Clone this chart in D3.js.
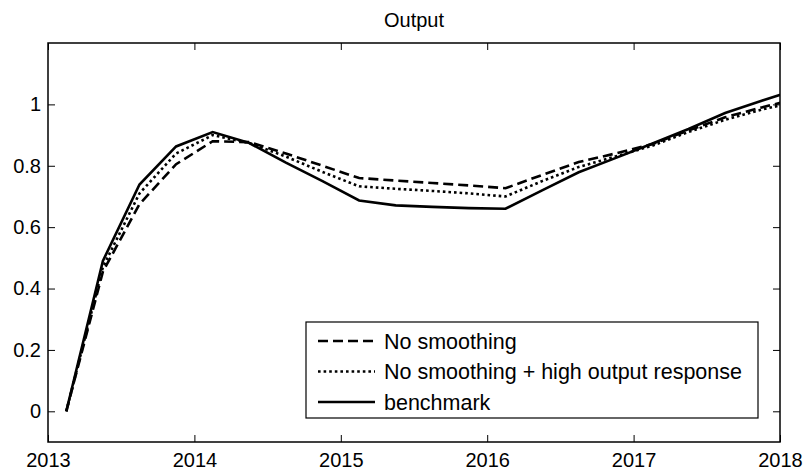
<!DOCTYPE html>
<html>
<head>
<meta charset="utf-8">
<script src="https://cdn.jsdelivr.net/npm/d3@7"></script>
<style>
  body { margin: 0; background: #fff; }
  text { font-family: "Liberation Sans", Arial, sans-serif; fill: #000; }
</style>
</head>
<body>
<div id="chart"></div>
<script>
// quarterly observations, 2013.125 + 0.25k
let dates = [2013.125, 2013.375, 2013.625, 2013.875, 2014.125, 2014.375, 2014.625, 2014.875,
  2015.125, 2015.375, 2015.625, 2015.875, 2016.125, 2016.375, 2016.625, 2016.875,
  2017.125, 2017.375, 2017.625, 2017.875, 2018.125];
let noSmoothing = [0, 0.455, 0.675, 0.805, 0.88, 0.877, 0.84, 0.80, 0.76, 0.752, 0.744, 0.736,
  0.727, 0.77, 0.812, 0.84, 0.87, 0.915, 0.958, 0.99, 1.02];
let highResponse = [0, 0.47, 0.71, 0.84, 0.9, 0.874, 0.83, 0.78, 0.733, 0.725, 0.718, 0.71,
  0.70, 0.75, 0.796, 0.83, 0.865, 0.91, 0.95, 0.983, 1.01];
let benchmark = [0, 0.49, 0.739, 0.863, 0.91, 0.874, 0.81, 0.75, 0.687, 0.671, 0.666, 0.662,
  0.66, 0.72, 0.779, 0.825, 0.872, 0.92, 0.972, 1.012, 1.05];
let xTicks = [2013, 2014, 2015, 2016, 2017, 2018];
let yTicks = [0, 0.2, 0.4, 0.6, 0.8, 1];
let seriesNames = ['No smoothing', 'No smoothing + high output response', 'benchmark'];

let w = 806,
  h = 472;
let padding = {top: 43, right: 26, bottom: 30, left: 48};
let width = w - padding.left - padding.right;
let height = h - padding.top - padding.bottom;

let svg = d3.select('#chart').append('svg')
  .attr('width', w)
  .attr('height', h);

let xScale = d3.scaleLinear().domain([2013, 2018]).range([0, width]);
let yScale = d3.scaleLinear().domain([-0.1, 1.2]).range([height, 0]);

let g = svg.append('g')
  .attr('transform', 'translate(' + padding.left + ',' + padding.top + ')');

g.append('clipPath').attr('id', 'clip')
  .append('rect').attr('width', width).attr('height', height);

// line styles per series
let styles = [
  {dash: '10,5', width: 2.6},
  {dash: '2.6,3', width: 2.6},
  {dash: null, width: 2.6}
];
let allSeries = [noSmoothing, highResponse, benchmark];

let line = d3.line()
  .x(function (d, i) { return xScale(dates[i]); })
  .y(function (d) { return yScale(d); });

g.append('g').attr('clip-path', 'url(#clip)')
  .selectAll('path')
  .data(allSeries)
  .enter()
  .append('path')
  .attr('d', line)
  .attr('fill', 'none')
  .attr('stroke', '#000')
  .attr('stroke-width', (d, i) => styles[i].width)
  .attr('stroke-dasharray', (d, i) => styles[i].dash)
  .attr('stroke-linejoin', 'miter');

// axes, MATLAB style: ticks inward on all four sides
let tickLen = 7;
let xAxis = d3.axisBottom(xScale).tickValues(xTicks).tickSizeInner(-tickLen).tickSizeOuter(0)
  .tickPadding(11).tickFormat(d3.format('d'));
let yAxis = d3.axisLeft(yScale).tickValues(yTicks).tickSizeInner(-tickLen).tickSizeOuter(0)
  .tickPadding(7).tickFormat(d => d === 0 || d === 1 ? d : d3.format('.1f')(d));

let gx = g.append('g').attr('transform', 'translate(0,' + height + ')').call(xAxis);
let gy = g.append('g').call(yAxis);
g.append('g').call(d3.axisTop(xScale).tickValues(xTicks).tickSizeInner(-tickLen).tickSizeOuter(0).tickFormat(''));
g.append('g').attr('transform', 'translate(' + width + ',0)')
  .call(d3.axisRight(yScale).tickValues(yTicks).tickSizeInner(-tickLen).tickSizeOuter(0).tickFormat(''));

g.selectAll('.domain').remove();
g.selectAll('.tick line').attr('stroke', '#000').attr('stroke-width', 1);
gx.selectAll('text').style('font-size', '20px').attr('dy', '0.71em');
gy.selectAll('text').style('font-size', '20px');

g.append('rect')
  .attr('width', width).attr('height', height)
  .attr('fill', 'none').attr('stroke', '#000').attr('stroke-width', 1.5);

// title
svg.append('text')
  .text('Output')
  .attr('x', padding.left + width / 2)
  .attr('y', 27)
  .attr('text-anchor', 'middle')
  .style('font-size', '20px');

// legend
let legend = {x: 306, y: 322, w: 452, h: 96};
let lg = svg.append('g').attr('transform', 'translate(' + legend.x + ',' + legend.y + ')');
lg.append('rect')
  .attr('width', legend.w).attr('height', legend.h)
  .attr('fill', '#fff').attr('stroke', '#000').attr('stroke-width', 1.2);

let rows = lg.selectAll('.legend-row')
  .data(seriesNames)
  .enter()
  .append('g')
  .attr('class', 'legend-row')
  .attr('transform', (d, i) => 'translate(0,' + (19 + i * 30.5) + ')');
rows.append('line')
  .attr('x1', 12).attr('x2', 69).attr('y1', 0).attr('y2', 0)
  .attr('stroke', '#000')
  .attr('stroke-width', (d, i) => styles[i].width)
  .attr('stroke-dasharray', (d, i) => styles[i].dash);
rows.append('text')
  .text(d => d)
  .attr('x', 78)
  .attr('dy', '0.35em')
  .style('font-size', '21.5px');
</script>
</body>
</html>
